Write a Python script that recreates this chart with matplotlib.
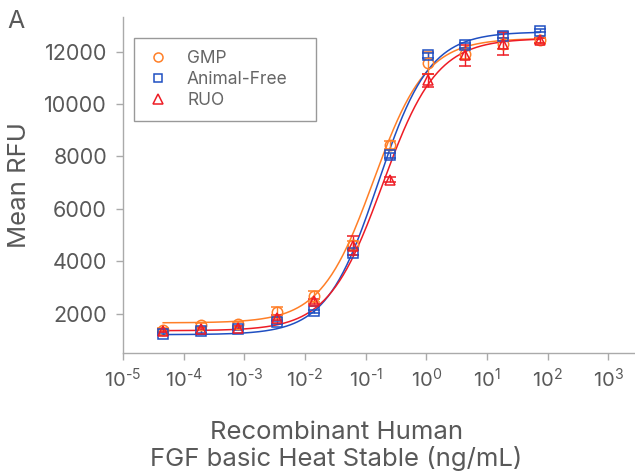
import numpy as np
import matplotlib
matplotlib.use('Agg')
import matplotlib.pyplot as plt
from matplotlib.lines import Line2D
from matplotlib.patches import Rectangle

plt.rcParams['font.family'] = ['Inter', 'DejaVu Sans']
plt.rcParams['mathtext.fontset'] = 'custom'
plt.rcParams['mathtext.rm'] = 'Inter'
plt.rcParams['mathtext.it'] = 'Inter'
plt.rcParams['mathtext.bf'] = 'Inter'

# concentrations (ng/mL)
conc = [4.6e-5, 1.9e-4, 7.9e-4, 3.4e-3, 1.4e-2, 6.1e-2, 0.25, 1.08, 4.3, 18.5, 73.6]

gmp = [1390, 1555, 1605, 2050, 2660, 4630, 8450, 11580, 11900, 12300, 12420]
gmp_err = [60, 80, 80, 220, 220, 150, 150, 420, 200, 200, 100]
af = [1225, 1325, 1415, 1670, 2090, 4320, 8040, 11850, 12230, 12610, 12800]
af_err = [50, 50, 50, 60, 60, 100, 100, 100, 100, 100, 50]
ruo = [1350, 1420, 1470, 1850, 2470, 4600, 7110, 10900, 11850, 12300, 12420]
ruo_err = [50, 50, 60, 100, 100, 350, 100, 250, 400, 450, 100]

# 4PL fit parameters: bottom, top, EC50, hill
gmp_fit = (1650, 12500, 0.135, 1.0)
af_fit = (1200, 12750, 0.16, 1.02)
ruo_fit = (1350, 12500, 0.19, 0.97)

c_gmp = '#ff7f27'
c_af = '#1f4fc2'
c_ruo = '#ee1c25'
grey = '#595959'


def fourpl(x, p):
    b, t, ec, h = p
    return b + (t - b) / (1 + (ec / x) ** h)


fig = plt.figure(figsize=(6.35, 4.76), dpi=100)
ax = fig.add_axes([0.1937, 0.2584, 0.81, 0.705])

xs = np.logspace(np.log10(conc[0]), np.log10(conc[-1]), 300)
for p, c in [(gmp_fit, c_gmp), (af_fit, c_af), (ruo_fit, c_ruo)]:
    ax.plot(xs, fourpl(xs, p), color=c, lw=1.1)

ax.errorbar(conc, gmp, yerr=gmp_err, fmt='o', mfc='none', mec=c_gmp, ecolor=c_gmp,
            ms=7.5, mew=1.1, capsize=4, elinewidth=1)
ax.errorbar(conc, af, yerr=af_err, fmt='s', mfc='none', mec=c_af, ecolor=c_af,
            ms=7, mew=1.1, capsize=4, elinewidth=1)
ax.errorbar(conc, ruo, yerr=ruo_err, fmt='^', mfc='none', mec=c_ruo, ecolor=c_ruo,
            ms=7.5, mew=1.1, capsize=4, elinewidth=1)

ax.set_xscale('log')
ax.set_xlim(1e-5, 10 ** 3.48)
ax.set_ylim(500, 13300)
ax.set_xticks([10.0 ** k for k in range(-5, 4)])
ax.set_xticklabels([r'$\mathregular{10^{\text{%s}}}$' % (('-' if k < 0 else '') + str(abs(k)))
                    for k in range(-5, 4)])
ax.xaxis.set_minor_locator(matplotlib.ticker.NullLocator())
ax.set_yticks([2000, 4000, 6000, 8000, 10000, 12000])

for s in ['top', 'right']:
    ax.spines[s].set_visible(False)
for s in ['left', 'bottom']:
    ax.spines[s].set_color('#aaaaaa')
    ax.spines[s].set_linewidth(1)
ax.tick_params(axis='both', colors='#aaaaaa', labelcolor=grey, width=1)
ax.tick_params(axis='x', length=5, pad=5, labelsize=14.5)
ax.tick_params(axis='y', length=5, pad=6.5, labelsize=15.5)

ax.set_ylabel('Mean RFU', fontsize=18.5, color=grey)
ax.yaxis.set_label_coords(-0.178, 0.5)
ax.set_xlabel('Recombinant Human\nFGF basic Heat Stable (ng/mL)', fontsize=18.5,
              color=grey, linespacing=1.12)
ax.xaxis.set_label_coords(0.415, -0.202)

handles = [
    Line2D([], [], ls='none', marker='o', mfc='none', mec=c_gmp, ms=6.5, mew=1.1),
    Line2D([], [], ls='none', marker='s', mfc='none', mec=c_af, ms=6, mew=1.1),
    Line2D([], [], ls='none', marker='^', mfc='none', mec=c_ruo, ms=6.5, mew=1.1),
]
leg = ax.legend(handles, ['GMP', 'Animal-Free', 'RUO'], loc='upper left',
                bbox_to_anchor=(0.0216, 0.93), fontsize=12.5, frameon=False,
                borderaxespad=0, handletextpad=0.83, borderpad=0.55,
                labelspacing=0.22, handlelength=1.67)
for t in leg.get_texts():
    t.set_color('#666666')
# legend frame, box of the original is wider than the text
ax.add_patch(Rectangle((0.0216, 0.69), 0.354, 0.25, transform=ax.transAxes,
                       fill=False, ec='#999999', lw=1, zorder=5))

fig.text(0.012, 0.978, 'A', fontsize=18, color=grey, va='top', ha='left')

fig.savefig('out.png', dpi=100)
